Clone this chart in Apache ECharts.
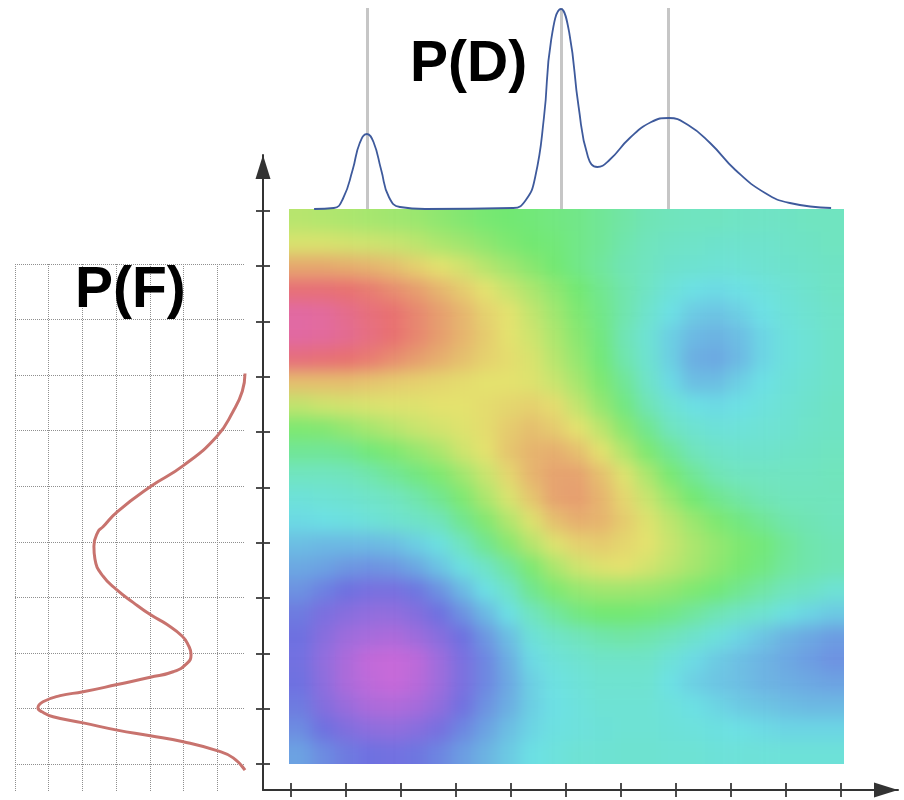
<!DOCTYPE html>
<html>
<head>
<meta charset="utf-8">
<script src="https://cdn.jsdelivr.net/npm/echarts@6/dist/echarts.min.js"></script>
<style>
html,body{margin:0;padding:0;background:#fff;}
#c{width:904px;height:800px;}
</style>
</head>
<body>
<div id="c"></div>
<script>
// Surface values, top row first (0 magenta, 2 blue, 4 cyan, 6 green, 8 yellow, 10 red, 11 pink)
var heatRows = [
[7.2,7.1,7.0,6.9,6.8,6.7,6.5,6.3,6.1,6.0,5.9,5.8,5.7,5.5,5.3,5.1,5.0,4.9,4.9,4.8,4.8,4.8,4.9,4.9],
[7.8,7.8,7.7,7.6,7.5,7.3,7.0,6.8,6.5,6.2,6.0,5.9,5.7,5.5,5.2,5.0,4.8,4.7,4.6,4.6,4.6,4.7,4.8,4.9],
[9.0,9.0,8.9,8.8,8.6,8.3,8.0,7.7,7.2,6.8,6.4,6.0,5.7,5.4,5.1,4.9,4.6,4.5,4.4,4.4,4.5,4.6,4.7,4.8],
[10.1,10.1,10.0,9.8,9.5,9.2,8.8,8.4,8.0,7.5,7.0,6.5,6.0,5.6,5.2,4.8,4.3,4.0,3.9,4.0,4.2,4.4,4.6,4.8],
[10.9,10.8,10.5,10.2,10.0,9.6,9.2,8.8,8.3,8.0,7.4,6.8,6.2,5.7,5.2,4.6,4.0,3.6,3.5,3.7,4.0,4.3,4.5,4.7],
[10.9,10.8,10.6,10.3,10.0,9.6,9.2,8.8,8.4,8.0,7.6,7.0,6.4,5.8,5.1,4.4,3.7,3.3,3.2,3.4,3.8,4.2,4.4,4.7],
[10.2,10.1,10.0,9.8,9.5,9.2,8.9,8.6,8.3,8.1,7.8,7.2,6.6,5.9,5.2,4.5,3.7,3.1,3.0,3.3,3.8,4.2,4.4,4.7],
[8.6,8.6,8.6,8.5,8.4,8.3,8.2,8.1,8.0,8.0,7.9,7.5,6.9,6.2,5.5,4.7,3.9,3.4,3.4,3.7,4.0,4.3,4.5,4.7],
[7.4,7.6,7.7,7.8,7.9,7.9,8.0,8.0,8.1,8.2,8.3,8.1,7.4,6.6,5.8,5.1,4.4,4.0,3.9,4.0,4.2,4.4,4.6,4.8],
[6.2,6.3,6.6,6.9,7.2,7.5,7.7,7.9,8.1,8.4,8.6,8.4,8.0,7.3,6.4,5.6,4.9,4.5,4.3,4.3,4.4,4.5,4.7,4.8],
[5.5,5.5,5.6,5.9,6.2,6.6,7.0,7.6,8.0,8.5,8.8,8.9,8.6,8.0,7.1,6.2,5.5,5.0,4.7,4.6,4.6,4.7,4.8,4.9],
[4.9,4.9,5.0,5.2,5.5,5.8,6.2,6.8,7.5,8.2,8.8,9.1,9.1,8.6,7.9,7.0,6.1,5.5,5.1,4.9,4.9,4.9,4.9,5.0],
[4.3,4.4,4.5,4.7,4.9,5.2,5.6,6.2,7.0,7.8,8.5,9.1,9.2,8.8,8.2,7.5,6.7,6.0,5.6,5.3,5.1,5.0,5.0,5.0],
[3.9,4.0,4.1,4.3,4.5,4.7,5.0,5.6,6.3,7.1,7.9,8.6,8.9,8.8,8.4,7.9,7.3,6.7,6.2,5.8,5.5,5.2,5.1,5.0],
[3.4,3.3,3.3,3.3,3.4,3.7,4.1,4.9,5.6,6.4,7.2,7.9,8.3,8.4,8.2,8.0,7.5,7.0,6.6,6.2,5.9,5.5,5.2,5.1],
[3.0,2.9,2.7,2.6,2.7,3.0,3.5,4.1,4.7,5.4,6.2,7.0,7.6,7.9,8.0,7.7,7.3,6.9,6.5,6.1,5.8,5.4,5.2,5.1],
[2.6,2.3,2.0,1.8,1.8,2.1,2.6,3.3,4.0,4.7,5.6,6.2,6.6,6.8,6.8,6.7,6.5,6.2,5.9,5.6,5.3,5.0,4.8,4.4],
[2.2,1.7,1.4,1.2,1.2,1.5,2.0,2.6,3.3,4.0,4.9,5.4,5.8,6.0,6.0,5.9,5.7,5.4,5.1,4.8,4.5,4.1,3.8,3.6],
[2.0,1.4,0.9,0.7,0.6,0.9,1.4,2.0,2.7,3.4,4.3,4.7,5.0,5.2,5.3,5.2,5.0,4.6,4.2,3.8,3.5,3.2,3.0,2.8],
[1.9,1.2,0.6,0.1,0,0.2,0.9,1.7,2.4,3.1,3.9,4.3,4.5,4.7,4.7,4.7,4.3,3.9,3.6,3.4,3.2,3.0,2.8,2.6],
[2.0,1.3,0.6,0.2,0,0.3,0.9,1.7,2.4,3.0,3.7,4.1,4.3,4.5,4.5,4.5,4.0,3.7,3.5,3.4,3.2,3.1,3.0,2.9],
[2.2,1.5,1.0,0.6,0.5,0.7,1.2,1.9,2.6,3.1,3.7,4.0,4.2,4.4,4.4,4.4,4.2,4.0,3.8,3.6,3.5,3.4,3.3,3.3],
[2.5,2.0,1.6,1.3,1.2,1.4,1.8,2.4,2.9,3.4,3.8,4.1,4.2,4.3,4.4,4.4,4.3,4.2,4.1,4.0,3.9,3.8,3.8,3.8],
[2.9,2.5,2.2,2.0,1.9,2.1,2.4,2.8,3.2,3.6,4.0,4.2,4.4,4.4,4.5,4.5,4.4,4.4,4.3,4.3,4.3,4.3,4.3,4.3]
];
var heatColors = ['#c668d8','#9a6cdc','#6e70e0','#6ca8e2','#6ce0e4','#70e4bc','#72e872','#ace66e','#e4e26e','#e6a86e','#e87070','#e068a8'];

// P(D) curve
var dValues = [0.42,0.78,0.95,1.12,1.25,1.38,1.50,1.64,1.78,1.98,2.44,4.04,4.27,4.44,4.60,4.73,4.91,5.06,5.23,5.40,5.57,5.79,6.16,6.55,6.87,7.22,7.62,8.08,8.62,9.07,9.82];
var pDValues = [0,0.01,0.11,0.39,0.66,0.75,0.67,0.39,0.12,0.02,0,0.01,0.09,0.32,0.92,1.69,2.00,1.76,1.02,0.52,0.42,0.49,0.71,0.87,0.91,0.84,0.66,0.39,0.16,0.06,0.01];
var dMarkers = [1.38,4.91,6.85];

// P(F) curve
var fValues = [-0.11,0.11,0.24,0.40,0.51,0.61,0.74,0.85,0.94,1.01,1.12,1.23,1.30,1.43,1.56,1.66,1.81,1.97,2.15,2.30,2.51,2.69,2.91,3.13,3.38,3.69,3.92,4.18,4.27,4.54,4.99,5.37,5.90,6.35,6.71,7.03];
var pFValues = [6.82,6.47,5.99,4.99,4.01,3.03,2.02,1.13,0.80,0.68,0.83,1.34,2.02,3.03,4.01,4.69,5.10,5.22,5.13,4.96,4.51,4.01,3.50,3.03,2.61,2.37,2.34,2.46,2.61,3.03,4.01,4.99,5.99,6.47,6.74,6.82];
var pFTicks = [0,1,2,3,4,5,6];
var fTicks = [0,1,2,3,4,5,6,7,8,9];

var axisTicks = [0,1,2,3,4,5,6,7,8,9,10];
var titleD = 'P(D)', titleF = 'P(F)';

// Heat cells, with one repeated ring of edge cells outside the visible square
var heatData = [], cats = [];
for (var k = 0; k < 26; k++) cats.push(k);
for (var r = 0; r < 26; r++) {
  for (var c = 0; c < 26; c++) {
    var ri = Math.max(0, Math.min(23, r - 1)), ci = Math.max(0, Math.min(23, c - 1));
    heatData.push([c, r, heatRows[ri][ci]]);
  }
}
function zip(a, b) { return a.map(function (v, i) { return [v, b[i]]; }); }

var axisColor = '#3a3a3a';
function titleOf(text, left, top) {
  return {text: text, left: left, top: top, padding: 0, zlevel: 1,
    textStyle: {fontFamily: 'Liberation Sans', fontWeight: 'bold', fontSize: 57, color: '#000'}};
}
function hiddenCat(i, inverse) {
  return {type: 'category', gridIndex: i, data: cats, inverse: !!inverse, show: false};
}
function mainAxis(min, max, pos, inside, line) {
  return {type: 'value', gridIndex: 3, min: min, max: max, position: pos, zlevel: 1,
    axisLine: {show: line, onZero: false, symbol: ['none', 'triangle'], symbolSize: [15, 24], symbolOffset: [0, -12],
      lineStyle: {color: '#333', width: 2}},
    axisTick: {show: true, inside: inside, length: 7, customValues: axisTicks, lineStyle: {color: axisColor, width: 1.8}},
    axisLabel: {show: false}, splitLine: {show: false}};
}
var dotted = {show: true, lineStyle: {type: 'dotted', color: '#8f8f8f', width: 1}};

var chart = echarts.init(document.getElementById('c'), null, {renderer: 'canvas'});
chart.setOption({
  animation: false,
  backgroundColor: 'transparent',
  title: [titleOf(titleD, 410, 37), titleOf(titleF, 75, 263)],
  grid: [
    {left: 265.875, top: 185.875, width: 601.25, height: 601.25},
    {left: 291, top: 8, width: 550, height: 201},
    {left: 15, top: 264, width: 230, height: 527},
    {left: 263, top: 155, width: 635, height: 635}
  ],
  xAxis: [
    hiddenCat(0),
    {type: 'value', gridIndex: 1, min: 0, max: 10, zlevel: 1,
      axisLine: {show: false}, axisLabel: {show: false},
      axisTick: {show: false, customValues: dMarkers},
      splitLine: {show: true, lineStyle: {color: '#c6c6c6', width: 3}}},
    {type: 'value', gridIndex: 2, min: 0, max: 6.82, zlevel: 1,
      axisLine: {show: false}, axisLabel: {show: false},
      axisTick: {show: false, customValues: pFTicks}, splitLine: dotted},
    mainAxis(-0.509, 11.036, 'bottom', false, true),
    mainAxis(-0.509, 11.036, 'bottom', true, false)
  ],
  yAxis: [
    hiddenCat(0, true),
    {type: 'value', gridIndex: 1, min: 0, max: 2.01, show: false, splitLine: {show: false}},
    {type: 'value', gridIndex: 2, min: -0.486, max: 9, zlevel: 1,
      axisLine: {show: false}, axisLabel: {show: false},
      axisTick: {show: false, customValues: fTicks}, splitLine: dotted},
    mainAxis(-0.47, 11.01, 'left', false, true),
    mainAxis(-0.47, 11.01, 'left', true, false)
  ],
  visualMap: {show: false, type: 'continuous', min: 0, max: 11, seriesIndex: 0, inRange: {color: heatColors}},
  series: [
    {type: 'heatmap', xAxisIndex: 0, yAxisIndex: 0, data: heatData, progressive: 0, zlevel: 0,
      itemStyle: {borderWidth: 0}, emphasis: {disabled: true}},
    {type: 'line', xAxisIndex: 1, yAxisIndex: 1, data: zip(dValues, pDValues), smooth: 0.5, symbol: 'none', zlevel: 1,
      lineStyle: {color: '#3e5a9c', width: 1.8}},
    {type: 'line', xAxisIndex: 2, yAxisIndex: 2, data: zip(pFValues, fValues), smooth: 0.5, symbol: 'none', zlevel: 1,
      lineStyle: {color: '#c8736e', width: 3}}
  ]
});

function softenHeatLayer() {
  var layers = chart.getDom().querySelectorAll('canvas');
  if (layers.length) {
    layers[0].style.filter = 'blur(8px)';
    layers[0].style.clipPath = 'inset(209px 60px 36px 289px)';
  }
}
softenHeatLayer();
chart.on('finished', softenHeatLayer);
</script>
</body>
</html>
